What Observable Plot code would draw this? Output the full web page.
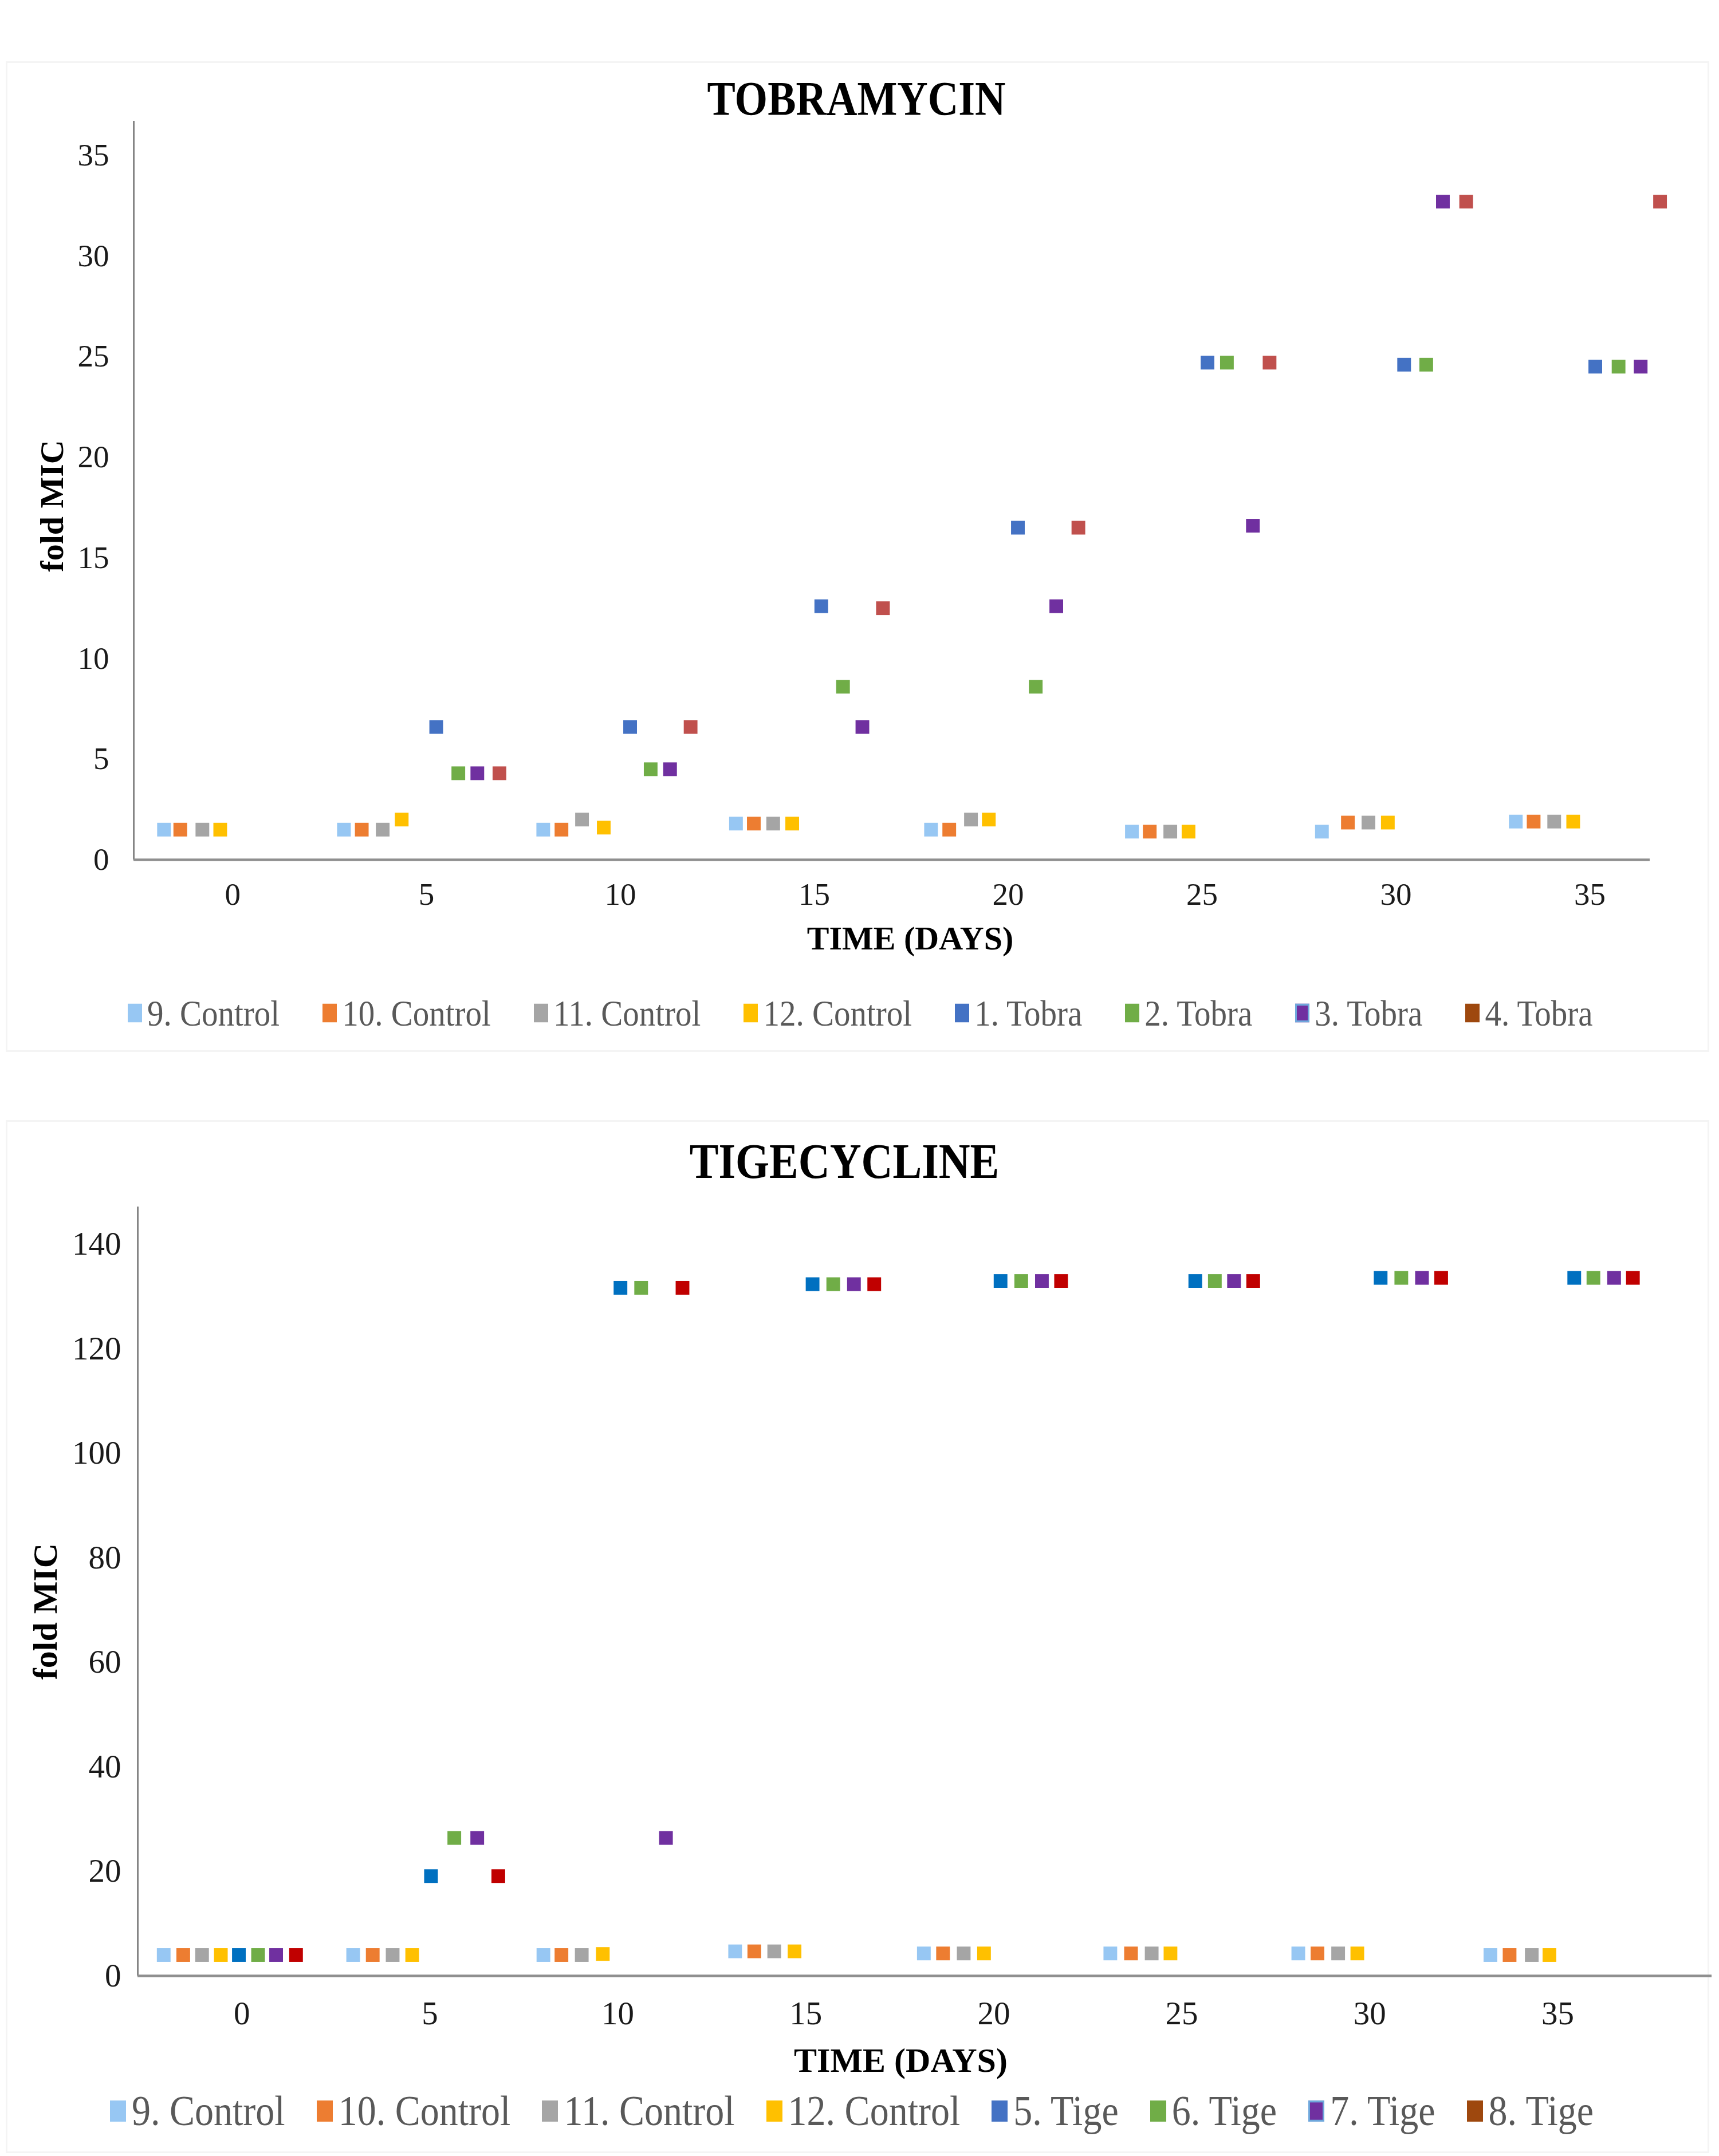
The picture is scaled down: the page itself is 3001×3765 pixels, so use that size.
<!DOCTYPE html>
<html>
<head>
<meta charset="utf-8">
<script src="https://cdn.jsdelivr.net/npm/d3@7"></script>
<script src="https://cdn.jsdelivr.net/npm/@observablehq/plot@0.6"></script>
<style>
  html, body { margin: 0; padding: 0; background: #fff; }
  body { width: 3001px; height: 3765px; position: relative; overflow: hidden;
         font-family: "Liberation Serif", "Times New Roman", serif; }
  .panel { position: absolute; border: 3px solid #f4f4f4; box-sizing: border-box; }
  .title { position: absolute; font-weight: bold; color: #000; white-space: nowrap;
           transform: translate(-50%, -50%) scaleY(1.15); }
  .legend { position: absolute; display: flex; align-items: center; color: #595959;
            white-space: nowrap; transform: translateY(-50%) scaleY(1.12); transform-origin: left center; }
  .legend .item { display: flex; align-items: center; }
  .legend .sw { display: inline-block; box-sizing: border-box; }
  .chart { position: absolute; left: 0; }
</style>
</head>
<body>
<div id="root"></div>
<script>
// ---------------- DATA: TOBRAMYCIN ----------------
const tobraSeries = ["9. Control", "10. Control", "11. Control", "12. Control",
                     "1. Tobra", "2. Tobra", "3. Tobra", "4. Tobra"];
const tobraColors = ["#97C7F3", "#ED7D31", "#A5A5A5", "#FFC000",
                     "#4472C4", "#70AD47", "#7030A0", "#C0504D"];
const tobraLegendColors = ["#97C7F3", "#ED7D31", "#A5A5A5", "#FFC000",
                           "#4472C4", "#70AD47", "#7030A0", "#9E480E"];
const tobraLegendBorders = [null, null, null, null, null, null, "#6FA8DC", null];
const tobraX = [
  [-1.77, 2.87, 8.01, 12.98, 18.01, 23.19, 28.09, 33.09],
  [-1.35, 3.33, 8.48, 13.44, 18.48, 23.65, 28.76, 33.55],
  [-0.78, 3.87, 9.01, 13.94, 19.04, 24.18, 29.29, 34.08],
  [-0.32, 4.36, 9.57, 14.43, 19.50, 24.65, 29.79, 34.57],
  [5.25, 10.25, 15.18, 20.25, 25.14, 30.21, 35.14],
  [5.82, 10.78, 15.74, 20.71, 25.64, 30.78, 35.74],
  [6.31, 11.28, 16.24, 21.24, 26.31, 31.21, 36.31],
  [6.88, 11.81, 16.77, 21.81, 26.74, 31.81, 36.81]
];
const tobraY = [
  [1.5, 1.5, 1.5, 1.8, 1.5, 1.4, 1.4, 1.9],
  [1.5, 1.5, 1.5, 1.8, 1.5, 1.4, 1.85, 1.9],
  [1.5, 1.5, 2.0, 1.8, 2.0, 1.4, 1.85, 1.9],
  [1.5, 2.0, 1.6, 1.8, 2.0, 1.4, 1.85, 1.9],
  [6.6, 6.6, 12.6, 16.5, 24.7, 24.6, 24.5],
  [4.3, 4.5, 8.6, 8.6, 24.7, 24.6, 24.5],
  [4.3, 4.5, 6.6, 12.6, 16.6, 32.7, 24.5],
  [4.3, 6.6, 12.5, 16.5, 24.7, 32.7, 32.7]
];
const tobraTicksX = [0, 5, 10, 15, 20, 25, 30, 35];
const tobraTicksY = [0, 5, 10, 15, 20, 25, 30, 35];

// ---------------- DATA: TIGECYCLINE ----------------
const tigeSeries = ["9. Control", "10. Control", "11. Control", "12. Control",
                    "5. Tige", "6. Tige", "7. Tige", "8. Tige"];
const tigeColors = ["#97C7F3", "#ED7D31", "#A5A5A5", "#FFC000",
                    "#0070C0", "#70AD47", "#7030A0", "#C00000"];
const tigeLegendColors = ["#97C7F3", "#ED7D31", "#A5A5A5", "#FFC000",
                          "#4472C4", "#70AD47", "#7030A0", "#9E480E"];
const tigeLegendBorders = [null, null, null, null, null, null, "#6FA8DC", null];
const tigeX = [
  [-2.08, 2.96, 8.02, 13.12, 18.14, 23.10, 28.10, 33.21],
  [-1.56, 3.48, 8.50, 13.63, 18.65, 23.65, 28.61, 33.72],
  [-1.06, 4.01, 9.04, 14.16, 19.20, 24.20, 29.16, 34.31],
  [-0.56, 4.53, 9.60, 14.70, 19.74, 24.70, 29.67, 34.78],
  [-0.08, 5.03, 10.07, 15.18, 20.18, 25.36, 30.29, 35.44],
  [0.43, 5.65, 10.62, 15.73, 20.73, 25.88, 30.84, 35.95],
  [0.91, 6.26, 11.28, 16.28, 21.28, 26.39, 31.39, 36.50],
  [1.44, 6.82, 11.72, 16.82, 21.79, 26.90, 31.90, 37.00]
];
const tigeY = [
  [4.0, 4.0, 4.0, 4.7, 4.3, 4.3, 4.3, 4.0],
  [4.0, 4.0, 4.0, 4.7, 4.3, 4.3, 4.3, 4.0],
  [4.0, 4.0, 4.0, 4.7, 4.3, 4.3, 4.3, 4.0],
  [4.0, 4.0, 4.2, 4.7, 4.3, 4.3, 4.3, 4.0],
  [4.0, 19.1, 131.7, 132.4, 133.0, 133.0, 133.6, 133.6],
  [4.0, 26.4, 131.7, 132.4, 133.0, 133.0, 133.6, 133.6],
  [4.0, 26.4, 26.4, 132.4, 133.0, 133.0, 133.6, 133.6],
  [4.0, 19.1, 131.7, 132.4, 133.0, 133.0, 133.6, 133.6]
];
const tigeTicksX = [0, 5, 10, 15, 20, 25, 30, 35];
const tigeTicksY = [0, 20, 40, 60, 80, 100, 120, 140];

// ---------------- BUILD ----------------
const root = document.getElementById("root");
const FONT = "'Liberation Serif', 'Times New Roman', serif";

function rowsOf(series, xs, ys) {
  return series.flatMap((s, i) => xs[i].map((x, j) => ({series: s, x, y: ys[i][j]})));
}

function addDiv(cls, styles, text) {
  const d = document.createElement("div");
  d.className = cls;
  Object.assign(d.style, styles);
  if (text != null) d.textContent = text;
  root.appendChild(d);
  return d;
}

function addLegend(series, colors, borders, cfg) {
  const lg = addDiv("legend", {left: cfg.left + "px", top: cfg.top + "px",
                               fontSize: cfg.fontSize + "px", gap: cfg.gap + "px"});
  series.forEach((s, i) => {
    const it = document.createElement("div");
    it.className = "item";
    const sw = document.createElement("span");
    sw.className = "sw";
    sw.style.width = cfg.sw[0] + "px";
    sw.style.height = cfg.sw[1] + "px";
    sw.style.background = colors[i];
    sw.style.marginRight = cfg.swGap + "px";
    if (borders[i]) sw.style.border = "3px solid " + borders[i];
    const tx = document.createElement("span");
    tx.textContent = s;
    it.appendChild(sw);
    it.appendChild(tx);
    lg.appendChild(it);
  });
}

function makeChart(c) {
  const rows = rowsOf(c.series, c.xs, c.ys);
  const plot = Plot.plot({
    width: 3001,
    height: c.height,
    marginTop: c.mt, marginBottom: c.mb, marginLeft: c.ml, marginRight: c.mr,
    style: {fontFamily: FONT, fontSize: c.tickFont + "px", color: "#1a1a1a", background: "transparent", overflow: "visible"},
    x: {domain: c.xDomain, label: null},
    y: {domain: c.yDomain, label: null},
    color: {domain: c.series, range: c.colors},
    marks: [
      Plot.ruleX([c.xDomain[0]], {stroke: "#858585", strokeWidth: 3}),
      Plot.ruleY([0], {stroke: "#8f8f8f", strokeWidth: 4.5}),
      Plot.axisX(c.ticksX, {tickSize: 0, tickPadding: c.padX, label: null, fontSize: c.tickFont}),
      Plot.axisY(c.ticksY, {tickSize: 0, tickPadding: c.padY, label: null, fontSize: c.tickFont}),
      Plot.dot(rows, {x: "x", y: "y", fill: "series", symbol: "square", r: c.r}),
      Plot.text([c.xTitle], {frameAnchor: "bottom", text: d => d, dx: c.xTitleDx, dy: c.xTitleDy,
        fontSize: c.titleFont, fontWeight: "bold", fill: "#000", textAnchor: "middle", lineAnchor: "middle"}),
      Plot.text([c.yTitle], {frameAnchor: "left", text: d => d, rotate: -90, dx: c.yTitleDx, dy: c.yTitleDy,
        fontSize: c.titleFont, fontWeight: "bold", fill: "#000", textAnchor: "middle", lineAnchor: "middle"})
    ]
  });
  plot.classList.add("chart");
  plot.style.top = c.top + "px";
  root.appendChild(plot);
}

// Panels (faint frames)
addDiv("panel", {left: "10px", top: "107px", width: "2974px", height: "1730px"});
addDiv("panel", {left: "10px", top: "1956px", width: "2974px", height: "1804px"});

// ---- Tobramycin ----
addDiv("title", {left: "1495px", top: "173px", fontSize: "74px"}, "TOBRAMYCIN");
makeChart({
  series: tobraSeries, colors: tobraColors, xs: tobraX, ys: tobraY,
  ticksX: tobraTicksX, ticksY: tobraTicksY,
  top: 190, height: 1500, mt: 21, mb: 189, ml: 233, mr: 121,
  xDomain: [-2.55, 36.55], yDomain: [0, 36.7],
  tickFont: 55, padX: 39, padY: 43, r: 13.5,
  xTitle: "TIME (DAYS)", yTitle: "fold MIC", titleFont: 58,
  xTitleDx: 32, xTitleDy: 138, yTitleDx: -142, yTitleDy: 27
});
addLegend(tobraSeries, tobraLegendColors, tobraLegendBorders,
  {left: 223, top: 1769, fontSize: 57, gap: 75, sw: [25, 29], swGap: 9});

// ---- Tigecycline ----
addDiv("title", {left: "1474px", top: "2028px", fontSize: "76px"}, "TIGECYCLINE");
makeChart({
  series: tigeSeries, colors: tigeColors, xs: tigeX, ys: tigeY,
  ticksX: tigeTicksX, ticksY: tigeTicksY,
  top: 2090, height: 1560, mt: 17, mb: 200, ml: 240, mr: 13,
  xDomain: [-2.77, 39.1], yDomain: [0, 147.2],
  tickFont: 57, padX: 44, padY: 29, r: 13.5,
  xTitle: "TIME (DAYS)", yTitle: "fold MIC", titleFont: 60,
  xTitleDx: -42, xTitleDy: 148, yTitleDx: -161, yTitleDy: 35
});
addLegend(tigeSeries, tigeLegendColors, tigeLegendBorders,
  {left: 192, top: 3686, fontSize: 66, gap: 55, sw: [28, 33], swGap: 10});
</script>
</body>
</html>
